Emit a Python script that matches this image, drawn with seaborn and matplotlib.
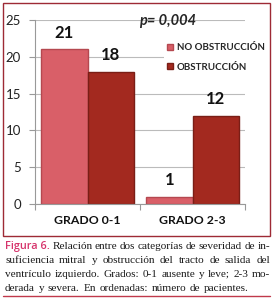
import matplotlib
matplotlib.use("Agg")
import matplotlib.pyplot as plt
import seaborn as sns
import pandas as pd
from matplotlib.patches import Rectangle
from matplotlib.lines import Line2D

categories = ["GRADO 0-1", "GRADO 2-3"]
series_names = ["NO OBSTRUCCIÓN", "OBSTRUCCIÓN"]
no_obstruccion = [21, 1]
obstruccion = [18, 12]
y_ticks = [0, 5, 10, 15, 20, 25]
title_text = "p= 0,004"
caption_label = "Figura 6."
caption_lines = [
    "Relación entre dos categorías de severidad de in-",
    "suficiencia mitral y obstrucción del tracto de salida del",
    "ventrículo izquierdo. Grados: 0-1 ausente y leve; 2-3 mo-",
    "derada y severa. En ordenadas: número de pacientes.",
]

colors = ["#D95F68", "#A3291F"]
edge_colors = ["#B54850", "#7A1E16"]

df = pd.DataFrame({
    "cat": categories * 2,
    "serie": [series_names[0]] * 2 + [series_names[1]] * 2,
    "val": no_obstruccion + obstruccion,
})

sns.set_theme(style="white")
plt.rcParams["font.family"] = ["Lato", "DejaVu Sans"]

W, H = 275, 300
fig = plt.figure(figsize=(W / 100, H / 100), dpi=100)
ax = fig.add_axes([35 / W, 1 - 204 / H, 210 / W, 184 / H])

sns.barplot(data=df, x="cat", y="val", hue="serie", order=categories,
            hue_order=series_names, palette=colors, width=0.88,
            saturation=1, ax=ax, legend=False)

for container, ec in zip(ax.containers, edge_colors):
    for bar in container:
        bar.set_edgecolor(ec)
        bar.set_linewidth(1.0)
    ax.bar_label(container, fmt="%d", padding=6, fontsize=12,
                 fontweight="bold", color="#111111")

ax.set_ylim(0, 25)
ax.set_xlim(-0.5, 1.5)
ax.set_yticks(y_ticks)
ax.set_xlabel("")
ax.set_ylabel("")
ax.grid(axis="y", color="#BBBBBB", linewidth=0.8)
ax.set_axisbelow(True)
for s in ["top", "right"]:
    ax.spines[s].set_visible(False)
for s in ["left", "bottom"]:
    ax.spines[s].set_color("#999999")
    ax.spines[s].set_linewidth(0.8)
ax.tick_params(axis="y", length=4, width=0.8, color="#999999",
               labelsize=9.5, pad=6, left=True, labelcolor="#222222")
ax.tick_params(axis="x", length=0, labelsize=8.8, pad=8, labelcolor="#111111")
for lbl in ax.get_xticklabels():
    lbl.set_fontweight("bold")
# category boundary ticks on the bottom axis
ax.set_xticks([-0.5, 0.5, 1.5], minor=True)
ax.tick_params(axis="x", which="minor", length=4, width=0.8, color="#999999",
               bottom=True)

ax.set_title(title_text, fontsize=10.5, fontweight="bold", style="italic",
             x=0.63, y=0.975, pad=0)

handles = [Line2D([], [], marker="s", linestyle="", markersize=5,
                  markerfacecolor=c, markeredgecolor=e)
           for c, e in zip(colors, edge_colors)]
leg = ax.legend(handles, series_names, loc="upper left",
                bbox_to_anchor=(164 / W, 1 - 41 / H),
                bbox_transform=fig.transFigure, frameon=True,
                facecolor="white", edgecolor="none", framealpha=1,
                fontsize=7.0, handlelength=0.8, handletextpad=0.3,
                labelspacing=1.1, borderpad=0.2, borderaxespad=0)
for t in leg.get_texts():
    t.set_fontweight("bold")

# chart frame
fig.patches.append(Rectangle((3 / W, 1 - 236 / H), 267 / W, 233 / H,
                             transform=fig.transFigure, fill=False,
                             edgecolor="#9E2A35", linewidth=1.0))
# bottom rule
fig.add_artist(Line2D([3 / W, 270 / W], [1 - 296 / H, 1 - 296 / H],
                      transform=fig.transFigure, color="#C0394B",
                      linewidth=1.0))

# justified caption
fig.canvas.draw()
renderer = fig.canvas.get_renderer()
left_px, right_px = 5, 270
cap_size = 8.1
serif = ["Liberation Serif", "DejaVu Serif"]
baselines = [249, 263, 277, 291]


def tw(s, **kw):
    t = fig.text(0, 0, s, fontsize=cap_size, **kw)
    w = t.get_window_extent(renderer).width
    t.remove()
    return w

for i, (line, yb) in enumerate(zip(caption_lines, baselines)):
    words = line.split(" ")
    items = []
    if i == 0:
        items.append((caption_label, dict(family=["Open Sans", "DejaVu Sans"],
                                         color="#D6336B", weight="semibold",
                                         size=7.8)))
    for w in words:
        items.append((w, dict(family=serif, color="#1A1A1A", size=cap_size)))
    widths = [tw(s, **{k: v for k, v in kw.items() if k != "size"})
              if kw.get("size") == cap_size else
              fig.text(0, 0, s, **kw).get_window_extent(renderer).width
              for s, kw in items]
    # remove temp texts created for non-default size
    for t in list(fig.texts):
        if t.get_position() == (0, 0):
            t.remove()
    total = sum(widths)
    last = i == len(caption_lines) - 1
    if last:
        gap = tw(" ", family=serif) + 0.8
    else:
        gap = (right_px - left_px - total) / (len(items) - 1)
    x = left_px
    for (s, kw), w in zip(items, widths):
        fig.text(x / W, 1 - yb / H, s, va="baseline", ha="left", **kw)
        x += w + gap

fig.savefig("out.png", dpi=100)
